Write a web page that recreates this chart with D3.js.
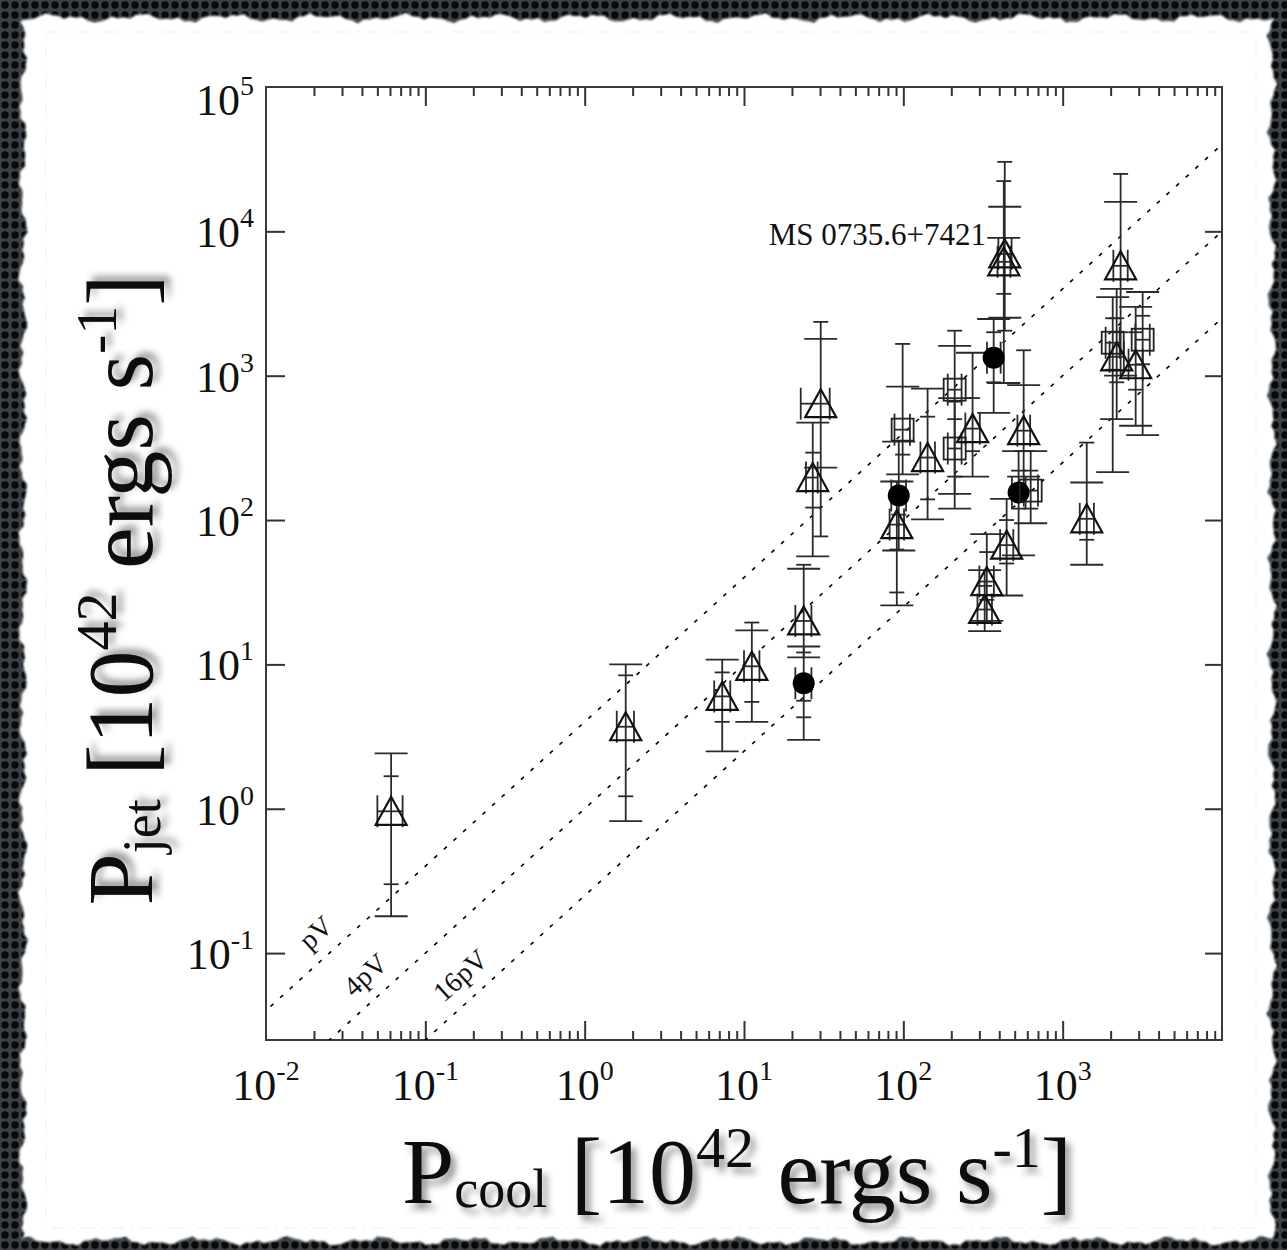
<!DOCTYPE html>
<html>
<head>
<meta charset="utf-8">
<script src="https://cdn.jsdelivr.net/npm/d3@7"></script>
<style>
  html, body { margin: 0; padding: 0; background: #111; }
  svg { display: block; }
</style>
</head>
<body>
<svg id="chart" width="1287" height="1250"></svg>
<script>
// ---- data: cooling luminosity vs. jet (cavity) power, units of 1e42 erg/s ----
const pointType = ["tri","tri","tri","tri","tri","dot","tri","tri","sq","dot",
                   "tri","tri","sq","sq","tri","dot","tri","tri","tri","dot",
                   "sq","tri","tri","tri","tri","tri","sq","sq","tri","tri"];
const pCool   = [0.061, 1.81, 7.3, 11.2, 23.7, 23.7, 27, 30.3, 99, 93.6,
                 91, 142, 210, 210, 272, 369, 433, 427, 569, 529,
                 630, 445, 334, 324, 1416, 2310, 2061, 3177, 2183, 2872];
const pJet    = [0.96, 3.7, 6.0, 9.7, 20, 7.4, 197, 640, 423, 148,
                 93, 271, 800, 313, 430, 1333, 6980, 6150, 416, 155,
                 160, 67, 37.5, 24, 102, 5770, 1692, 1775, 1352, 1191];
const pCoolLo = [0.050, 1.59, 6.5, 10.0, 21, 21, 24.5, 22.7, 88, 84,
                 82, 128, 190, 190, 245, 335, 395, 390, 520, 480,
                 570, 405, 300, 292, 1280, 2080, 1860, 2860, 1970, 2590];
const pCoolHi = [0.072, 2.04, 8.2, 12.5, 26.5, 26.5, 29, 34.5, 110, 104,
                 101, 158, 232, 232, 302, 408, 478, 470, 625, 585,
                 700, 490, 370, 360, 1570, 2560, 2280, 3520, 2420, 3180];
// outer interval (wide caps)
const jetLoWide  = [0.18, 0.82, 2.5, 4.0, 11.2, 3.0, 56, 231, 207, 61.5,
                    25.6, 101, 152, 120, 200, 552, 2520, 890, 200, 57,
                    95, 30, 20, 17, 49, 1000, 215, 388, 500, 450];
const jetHiWide  = [2.42, 10.0, 10.8, 17.2, 46, 13.3, 473, 1800, 840, 349,
                    185, 813, 1610, 700, 1442, 2470, 14800, 9000, 860, 300,
                    300, 140, 80, 45, 182, 16000, 3500, 3800, 4000, 3000];
// inner interval (narrow caps)
const jetLoNarrow = [0.30, 1.22, 4.0, 5.5, 12.1, 4.3, 122, 77, 284, 109,
                     31.5, 139, 661, 200, 300, 900, 2050, 3690, 300, 120,
                     120, 50, 28, 20, 73, 2000, 1100, 1200, 900, 800];
const jetHiNarrow = [1.68, 8.4, 8.8, 19.5, 49, 5.6, 293, 2360, 1660, 185,
                     62.5, 520, 2050, 500, 700, 2000, 30300, 22300, 1500, 220,
                     220, 100, 60, 35, 344, 25000, 2500, 2600, 2500, 2000];

// reference lines P_jet = k * P_cool
const refLabels  = ["pV", "4pV", "16pV"];
const refFactors = [4, 1, 0.25];
const refLabelX  = [0.0225, 0.046, 0.182];

const xTickExps = [-2, -1, 0, 1, 2, 3];
const yTickExps = [-1, 0, 1, 2, 3, 4, 5];
const annotationText = "MS 0735.6+7421";

// ---- canvas ----
const W = 1287, H = 1250;
const svg = d3.select("#chart");
const defs = svg.append("defs");

const mesh = defs.append("pattern").attr("id", "mesh")
  .attr("width", 10).attr("height", 10).attr("patternUnits", "userSpaceOnUse");
mesh.append("rect").attr("width", 10).attr("height", 10).attr("fill", "#3a4045");
mesh.append("circle").attr("cx", 5).attr("cy", 5).attr("r", 3.7).attr("fill", "#07090b");

const soft = defs.append("filter").attr("id", "soft");
soft.append("feGaussianBlur").attr("stdDeviation", 1.2);

const shadow = defs.append("filter").attr("id", "shadow")
  .attr("x", "-5%").attr("y", "-20%").attr("width", "115%").attr("height", "150%");
shadow.append("feDropShadow").attr("dx", 5).attr("dy", 6)
  .attr("stdDeviation", 3.5).attr("flood-color", "#000").attr("flood-opacity", 0.42);

svg.append("rect").attr("width", W).attr("height", H).attr("fill", "url(#mesh)");

// torn paper sheet
function ragged(t, s) {
  return 2.6 * Math.sin(t * 0.071 + s) + 1.8 * Math.sin(t * 0.193 + 2 * s) + 1.1 * Math.sin(t * 0.47 + 3 * s);
}
const edge = [];
for (let xx = 22; xx <= 1272; xx += 6) edge.push([xx, 18 + ragged(xx, 1)]);
for (let yy = 18; yy <= 1240; yy += 6) edge.push([1272 + ragged(yy, 2), yy]);
for (let xx = 1272; xx >= 22; xx -= 6) edge.push([xx, 1241 + ragged(xx, 3)]);
for (let yy = 1240; yy >= 18; yy -= 6) edge.push([23 + ragged(yy, 4), yy]);
svg.append("path").attr("d", d3.line()(edge) + "Z").attr("fill", "#fff").attr("filter", "url(#soft)");
svg.append("rect").attr("x", 46).attr("y", 32).attr("width", 1210).attr("height", 1196)
  .attr("fill", "none").attr("stroke", "#f1f1f1").attr("stroke-width", 1).attr("stroke-dasharray", "14,6,3,6");

// ---- scales ----
const x = d3.scaleLog().domain([1e-2, 1e4]).range([266, 1222]);
const y = d3.scaleLog().domain([0.025, 1e5]).range([1040, 87]);
const [x0, x1] = x.range(), [y0, y1] = y.range();

const plot = svg.append("g");
plot.append("defs").append("clipPath").attr("id", "clip")
  .append("rect").attr("x", x0).attr("y", y1).attr("width", x1 - x0).attr("height", y0 - y1);

// ---- axes (ticks point inward on all four sides) ----
const majorX = d3.range(-1, 4).map(e => Math.pow(10, e));
const minorX = [];
for (let e = -2; e <= 3; e++) for (let m = 2; m <= 9; m++) minorX.push(m * Math.pow(10, e));
const majorY = d3.range(-1, 5).map(e => Math.pow(10, e));

function styleAxis(g) {
  g.select(".domain").remove();
  g.selectAll(".tick line").attr("stroke", "#333").attr("stroke-width", 2);
  g.selectAll(".tick text").remove();
}
plot.append("g").attr("transform", `translate(0,${y0})`)
  .call(d3.axisTop(x).tickValues(majorX).tickSize(19).tickFormat("")).call(styleAxis);
plot.append("g").attr("transform", `translate(0,${y0})`)
  .call(d3.axisTop(x).tickValues(minorX).tickSize(9).tickFormat("")).call(styleAxis);
plot.append("g").attr("transform", `translate(0,${y1})`)
  .call(d3.axisBottom(x).tickValues(majorX).tickSize(19).tickFormat("")).call(styleAxis);
plot.append("g").attr("transform", `translate(0,${y1})`)
  .call(d3.axisBottom(x).tickValues(minorX).tickSize(9).tickFormat("")).call(styleAxis);
plot.append("g").attr("transform", `translate(${x0},0)`)
  .call(d3.axisRight(y).tickValues(majorY).tickSize(19).tickFormat("")).call(styleAxis);
plot.append("g").attr("transform", `translate(${x1},0)`)
  .call(d3.axisLeft(y).tickValues(majorY).tickSize(17).tickFormat("")).call(styleAxis);

plot.append("rect").attr("x", x0).attr("y", y1).attr("width", x1 - x0).attr("height", y0 - y1)
  .attr("fill", "none").attr("stroke", "#3a3a3a").attr("stroke-width", 2);

// tick labels as 10^n
const serif = "'Liberation Serif', 'Times New Roman', serif";
xTickExps.forEach(e => {
  const t = plot.append("text").attr("x", x(Math.pow(10, e))).attr("y", 1100)
    .attr("text-anchor", "middle").attr("font-family", serif).attr("font-size", 44).attr("fill", "#111");
  t.append("tspan").text("10");
  t.append("tspan").attr("font-size", 28).attr("dy", -20).text(e);
});
yTickExps.forEach(e => {
  const base = e === 5 ? y(Math.pow(10, e)) + 28 : y(Math.pow(10, e)) + 16;
  const t = plot.append("text").attr("x", 254).attr("y", base)
    .attr("text-anchor", "end").attr("font-family", serif).attr("font-size", 44).attr("fill", "#111");
  t.append("tspan").text("10");
  t.append("tspan").attr("font-size", 28).attr("dy", -20).text(e);
});

// ---- reference lines ----
const clipped = plot.append("g").attr("clip-path", "url(#clip)");
refFactors.forEach((k, i) => {
  clipped.append("line")
    .attr("x1", x(1e-3)).attr("y1", y(1e-3 * k))
    .attr("x2", x(1e5)).attr("y2", y(1e5 * k))
    .attr("stroke", "#000").attr("stroke-width", 1.6).attr("stroke-dasharray", "4,9");
});
const slopeDeg = -Math.atan((y(1) - y(10)) / (x(10) - x(1))) * 180 / Math.PI;
refLabels.forEach((lab, i) => {
  const lx = refLabelX[i];
  const px = x(lx), py = y(lx * refFactors[i]) - 20;
  plot.append("text").attr("transform", `translate(${px},${py}) rotate(${slopeDeg})`)
    .attr("text-anchor", "middle").attr("font-family", serif).attr("font-size", 28)
    .attr("fill", "#111").text(lab);
});

// ---- error bars ----
const bars = plot.append("g").attr("stroke", "#2a2a2a").attr("stroke-width", 1.8).attr("fill", "none");
const wideCap = 16.5, narrowCap = 7.5, xCap = 16;
pCool.forEach((c, i) => {
  const px = x(c), py = y(pJet[i]);
  const lo = Math.min(jetLoWide[i], jetLoNarrow[i]);
  const hi = Math.max(jetHiWide[i], jetHiNarrow[i]);
  bars.append("line").attr("x1", px).attr("x2", px).attr("y1", y(lo)).attr("y2", y(hi));
  [jetLoWide[i], jetHiWide[i]].forEach(v =>
    bars.append("line").attr("x1", px - wideCap).attr("x2", px + wideCap).attr("y1", y(v)).attr("y2", y(v)));
  [jetLoNarrow[i], jetHiNarrow[i]].forEach(v =>
    bars.append("line").attr("x1", px - narrowCap).attr("x2", px + narrowCap).attr("y1", y(v)).attr("y2", y(v)));
  bars.append("line").attr("x1", x(pCoolLo[i])).attr("x2", x(pCoolHi[i])).attr("y1", py).attr("y2", py);
  [pCoolLo[i], pCoolHi[i]].forEach(v =>
    bars.append("line").attr("x1", x(v)).attr("x2", x(v)).attr("y1", py - xCap).attr("y2", py + xCap));
});

// ---- markers ----
const marks = plot.append("g");
const triangle = "M0,-14.5L15.5,13.5L-15.5,13.5Z";
pCool.forEach((c, i) => {
  const px = x(c), py = y(pJet[i]);
  if (pointType[i] === "tri") {
    marks.append("path").attr("d", triangle).attr("transform", `translate(${px},${py})`)
      .attr("fill", "none").attr("stroke", "#111").attr("stroke-width", 2.2);
  } else if (pointType[i] === "sq") {
    marks.append("rect").attr("x", px - 11).attr("y", py - 11).attr("width", 22).attr("height", 22)
      .attr("fill", "none").attr("stroke", "#222").attr("stroke-width", 1.8);
  } else {
    marks.append("circle").attr("cx", px).attr("cy", py).attr("r", 11).attr("fill", "#000");
  }
});

plot.append("text").attr("x", 986).attr("y", 245).attr("text-anchor", "end")
  .attr("font-family", serif).attr("font-size", 31).attr("fill", "#111").text(annotationText);

// ---- axis titles ----
const xt = svg.append("text").attr("x", 737).attr("y", 1203).attr("text-anchor", "middle")
  .attr("font-family", serif).attr("font-size", 94).attr("fill", "#0a0a0a").attr("filter", "url(#shadow)");
xt.append("tspan").text("P");
xt.append("tspan").attr("font-size", 54).attr("dy", 4).text("cool");
xt.append("tspan").attr("dy", -4).text(" [10");
xt.append("tspan").attr("font-size", 58).attr("dy", -36).text("42");
xt.append("tspan").attr("dy", 36).text(" ergs s");
xt.append("tspan").attr("font-size", 58).attr("dy", -36).text("-1");
xt.append("tspan").attr("dy", 36).text("]");

const yt = svg.append("text").attr("transform", "translate(152,590) rotate(-90)").attr("text-anchor", "middle")
  .attr("font-family", serif).attr("font-size", 94).attr("fill", "#0a0a0a").attr("filter", "url(#shadow)");
yt.append("tspan").text("P");
yt.append("tspan").attr("font-size", 54).attr("dy", 8).text("jet");
yt.append("tspan").attr("dy", -8).text(" [10");
yt.append("tspan").attr("font-size", 58).attr("dy", -36).text("42");
yt.append("tspan").attr("dy", 36).text(" ergs s");
yt.append("tspan").attr("font-size", 58).attr("dy", -36).text("-1");
yt.append("tspan").attr("dy", 36).text("]");
</script>
</body>
</html>
